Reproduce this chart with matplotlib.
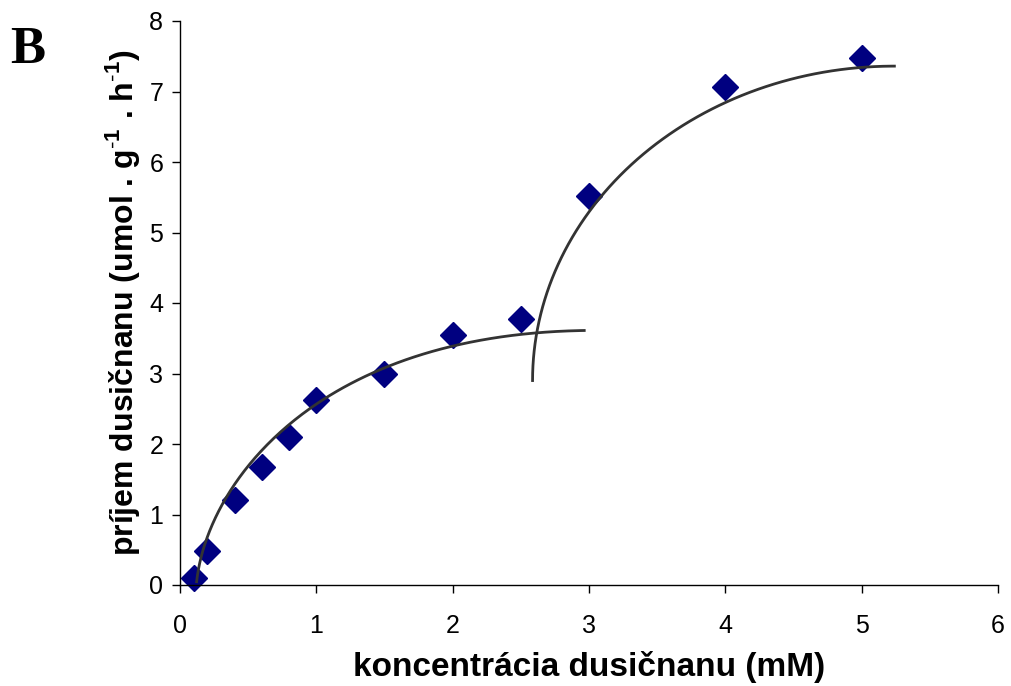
import numpy as np
import matplotlib
matplotlib.use("Agg")
import matplotlib.pyplot as plt

# data
conc = [0.1, 0.2, 0.4, 0.6, 0.8, 1.0, 1.5, 2.0, 2.5, 3.0, 4.0, 5.0]
uptake = [0.10, 0.48, 1.21, 1.68, 2.10, 2.63, 3.00, 3.55, 3.78, 5.52, 7.07, 7.48]

# curve 1: cubic Bezier control points (x, y)
curve1_ctrl_x = [0.122, 0.20, 1.00, 2.965]
curve1_ctrl_y = [0.047, 1.45, 3.55, 3.61]
# curve 2: quarter ellipse arc (center, semi-axes)
curve2_center = (5.24, 2.90)
curve2_axes = (2.654, 4.46)

x_ticks = [0, 1, 2, 3, 4, 5, 6]
y_ticks = [0, 1, 2, 3, 4, 5, 6, 7, 8]

plt.rcParams['font.family'] = ['Liberation Sans', 'DejaVu Sans']
plt.rcParams['mathtext.fontset'] = 'custom'
plt.rcParams['mathtext.rm'] = 'Liberation Sans'
plt.rcParams['mathtext.bf'] = 'Liberation Sans:bold'

fig = plt.figure(figsize=(10.12, 6.86), dpi=100)
ax = fig.add_axes([180/1012, 1-585/686, (998-180)/1012, (585-21)/686])

# curve 1
t = np.linspace(0, 1, 200)
P = np.array([curve1_ctrl_x, curve1_ctrl_y])
B = ((1-t)**3)[None]*P[:, [0]] + (3*(1-t)**2*t)[None]*P[:, [1]] + (3*(1-t)*t**2)[None]*P[:, [2]] + (t**3)[None]*P[:, [3]]
ax.plot(B[0], B[1], color='#333333', lw=2.0, zorder=3)

# curve 2
th = np.linspace(np.pi, np.pi/2, 200)
cx, cy = curve2_center
a, b = curve2_axes
ax.plot(cx + a*np.cos(th), cy + b*np.sin(th), color='#333333', lw=2.0, zorder=3)

ax.plot(conc, uptake, linestyle='none', marker='D', markersize=13,
        color='#000080', markeredgecolor='#000080', zorder=2, clip_on=False)

ax.set_xlim(0, 6)
ax.set_ylim(0, 8)
ax.set_xticks(x_ticks)
ax.set_yticks(y_ticks)
ax.spines['top'].set_visible(False)
ax.spines['right'].set_visible(False)
for s in ['left', 'bottom']:
    ax.spines[s].set_linewidth(1.0)
    ax.spines[s].set_color('black')
ax.tick_params(axis='both', direction='out', length=6, width=1.0, color='black')
ax.tick_params(axis='y', labelsize=18, pad=6)
ax.tick_params(axis='x', labelsize=18, pad=15)

ax.set_xlabel('koncentrácia dusičnanu (mM)', fontsize=24, fontweight='bold', labelpad=9)
ax.set_ylabel(r'príjem dusičnanu (umol . g$^{\mathbf{\text{-}1}}$ . h$^{\mathbf{\text{-}1}}$)',
              fontsize=23, fontweight='bold', labelpad=5)

fig.text(10/1012, 1-63/686, 'B', fontsize=38, fontweight='bold',
         family=['Liberation Serif', 'DejaVu Serif'], ha='left', va='baseline')

fig.savefig('out.png', dpi=100)
